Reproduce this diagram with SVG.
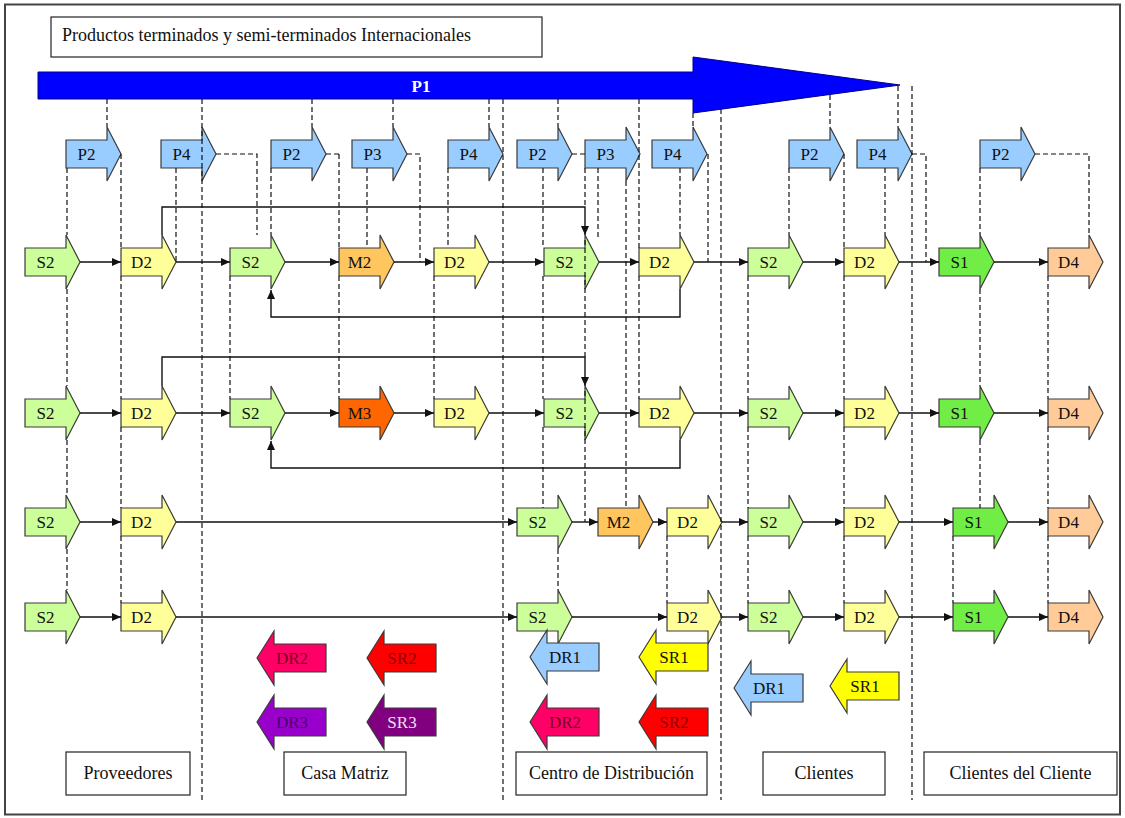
<svg xmlns="http://www.w3.org/2000/svg" xmlns:xlink="http://www.w3.org/1999/xlink" width="1125" height="818" viewBox="0 0 1125 818">
  <style>
    .lbl { font-family: "Liberation Serif", "Times New Roman", serif; font-size: 17px; fill: #111; text-anchor: middle; }
    .box { fill: #fff; stroke: #222; stroke-width: 1.2; }
    .boxtxt { font-family: "Liberation Serif", "Times New Roman", serif; font-size: 18px; fill: #111; text-anchor: middle; }
    .shape { stroke: #3a3a3a; stroke-width: 1.2; stroke-linejoin: miter; }
    .s2 { fill: #CCFF99; }
    .s1 { fill: #70EE45; }
    .d2 { fill: #FFFF99; }
    .d4 { fill: #FFCC99; }
    .m2 { fill: #FFC55E; }
    .m3 { fill: #FF6600; }
    .p  { fill: #99CCFF; }
    .dr1 { fill: #99CCFF; }
    .sr1 { fill: #FFFF00; }
    .dr2 { fill: #FF0066; }
    .sr2 { fill: #FF0000; }
    .dr3 { fill: #9900CC; }
    .sr3 { fill: #800080; }
    .flow { fill: none; stroke: #111; stroke-width: 1.4; }
    .dash { fill: none; stroke: #111; stroke-width: 1.2; stroke-dasharray: 5 3; }
  </style>
  <defs>
    <!-- block arrow pointing right, origin at body left / centre line -->
    <path id="fwd" d="M0,-14 H41 V-27 L55,0 L41,27 V14 H0 Z"/>
    <!-- block arrow pointing left, origin at tip -->
    <path id="rev" d="M0,0 L17,-27 V-14 H69 V14 H17 V27 Z"/>
    <marker id="ah" markerUnits="userSpaceOnUse" markerWidth="9" markerHeight="8" refX="9" refY="4" orient="auto">
      <path d="M0,0 L9,4 L0,8 Z" fill="#111"/>
    </marker>
  </defs>

  <rect x="5" y="4.5" width="1115" height="810" fill="#fff" stroke="#444" stroke-width="2"/>

  <!-- heading -->
  <g id="title">
    <rect class="box" x="51" y="17" width="491" height="40"/>
    <text x="62" y="41" font-family="Liberation Serif, serif" font-size="18" fill="#111">Productos terminados y semi-terminados Internacionales</text>
  </g>

  <!-- overall plan arrow -->
  <g id="P1">
    <path d="M38,72 H693 V57 L900,85 L693,113 V99 H38 Z" fill="#0000FF" stroke="#00008B" stroke-width="1"/>
    <text x="421" y="92" font-family="Liberation Serif, serif" font-size="17" font-weight="bold" fill="#fff" text-anchor="middle">P1</text>
  </g>

  <!-- planning row -->
  <g id="plan">
    <g id="p2-a"><use xlink:href="#fwd" class="shape p" x="66" y="154"/><text class="lbl" x="86.5" y="160">P2</text></g>
    <g id="p4-a"><use xlink:href="#fwd" class="shape p" x="161" y="154"/><text class="lbl" x="181.5" y="160">P4</text></g>
    <g id="p2-b"><use xlink:href="#fwd" class="shape p" x="271" y="154"/><text class="lbl" x="291.5" y="160">P2</text></g>
    <g id="p3-a"><use xlink:href="#fwd" class="shape p" x="352" y="154"/><text class="lbl" x="372.5" y="160">P3</text></g>
    <g id="p4-b"><use xlink:href="#fwd" class="shape p" x="448" y="154"/><text class="lbl" x="468.5" y="160">P4</text></g>
    <g id="p2-c"><use xlink:href="#fwd" class="shape p" x="517" y="154"/><text class="lbl" x="537.5" y="160">P2</text></g>
    <g id="p3-b"><use xlink:href="#fwd" class="shape p" x="585" y="154"/><text class="lbl" x="605.5" y="160">P3</text></g>
    <g id="p4-c"><use xlink:href="#fwd" class="shape p" x="652" y="154"/><text class="lbl" x="672.5" y="160">P4</text></g>
    <g id="p2-d"><use xlink:href="#fwd" class="shape p" x="789" y="154"/><text class="lbl" x="809.5" y="160">P2</text></g>
    <g id="p4-d"><use xlink:href="#fwd" class="shape p" x="857" y="154"/><text class="lbl" x="877.5" y="160">P4</text></g>
    <g id="p2-e"><use xlink:href="#fwd" class="shape p" x="980" y="154"/><text class="lbl" x="1000.5" y="160">P2</text></g>
  </g>

  <!-- row 1 -->
  <g id="row1">
    <g id="r1-s2a"><use xlink:href="#fwd" class="shape s2" x="25" y="262"/><text class="lbl" x="45.5" y="268">S2</text></g>
    <g id="r1-d2a"><use xlink:href="#fwd" class="shape d2" x="121" y="262"/><text class="lbl" x="141.5" y="268">D2</text></g>
    <g id="r1-s2b"><use xlink:href="#fwd" class="shape s2" x="230" y="262"/><text class="lbl" x="250.5" y="268">S2</text></g>
    <g id="r1-m2"><use xlink:href="#fwd" class="shape m2" x="339" y="262"/><text class="lbl" x="359.5" y="268">M2</text></g>
    <g id="r1-d2b"><use xlink:href="#fwd" class="shape d2" x="434" y="262"/><text class="lbl" x="454.5" y="268">D2</text></g>
    <g id="r1-s2c"><use xlink:href="#fwd" class="shape s2" x="544" y="262"/><text class="lbl" x="564.5" y="268">S2</text></g>
    <g id="r1-d2c"><use xlink:href="#fwd" class="shape d2" x="639" y="262"/><text class="lbl" x="659.5" y="268">D2</text></g>
    <g id="r1-s2d"><use xlink:href="#fwd" class="shape s2" x="748" y="262"/><text class="lbl" x="768.5" y="268">S2</text></g>
    <g id="r1-d2d"><use xlink:href="#fwd" class="shape d2" x="844" y="262"/><text class="lbl" x="864.5" y="268">D2</text></g>
    <g id="r1-s1"><use xlink:href="#fwd" class="shape s1" x="939" y="262"/><text class="lbl" x="959.5" y="268">S1</text></g>
    <g id="r1-d4"><use xlink:href="#fwd" class="shape d4" x="1048" y="262"/><text class="lbl" x="1068.5" y="268">D4</text></g>
  </g>

  <!-- row 2 -->
  <g id="row2">
    <g id="r2-s2a"><use xlink:href="#fwd" class="shape s2" x="25" y="413"/><text class="lbl" x="45.5" y="419">S2</text></g>
    <g id="r2-d2a"><use xlink:href="#fwd" class="shape d2" x="121" y="413"/><text class="lbl" x="141.5" y="419">D2</text></g>
    <g id="r2-s2b"><use xlink:href="#fwd" class="shape s2" x="230" y="413"/><text class="lbl" x="250.5" y="419">S2</text></g>
    <g id="r2-m3"><use xlink:href="#fwd" class="shape m3" x="339" y="413"/><text class="lbl" x="359.5" y="419">M3</text></g>
    <g id="r2-d2b"><use xlink:href="#fwd" class="shape d2" x="434" y="413"/><text class="lbl" x="454.5" y="419">D2</text></g>
    <g id="r2-s2c"><use xlink:href="#fwd" class="shape s2" x="544" y="413"/><text class="lbl" x="564.5" y="419">S2</text></g>
    <g id="r2-d2c"><use xlink:href="#fwd" class="shape d2" x="639" y="413"/><text class="lbl" x="659.5" y="419">D2</text></g>
    <g id="r2-s2d"><use xlink:href="#fwd" class="shape s2" x="748" y="413"/><text class="lbl" x="768.5" y="419">S2</text></g>
    <g id="r2-d2d"><use xlink:href="#fwd" class="shape d2" x="844" y="413"/><text class="lbl" x="864.5" y="419">D2</text></g>
    <g id="r2-s1"><use xlink:href="#fwd" class="shape s1" x="939" y="413"/><text class="lbl" x="959.5" y="419">S1</text></g>
    <g id="r2-d4"><use xlink:href="#fwd" class="shape d4" x="1048" y="413"/><text class="lbl" x="1068.5" y="419">D4</text></g>
  </g>

  <!-- row 3 -->
  <g id="row3">
    <g id="r3-s2a"><use xlink:href="#fwd" class="shape s2" x="25" y="522"/><text class="lbl" x="45.5" y="528">S2</text></g>
    <g id="r3-d2a"><use xlink:href="#fwd" class="shape d2" x="121" y="522"/><text class="lbl" x="141.5" y="528">D2</text></g>
    <g id="r3-s2c"><use xlink:href="#fwd" class="shape s2" x="517" y="522"/><text class="lbl" x="537.5" y="528">S2</text></g>
    <g id="r3-m2"><use xlink:href="#fwd" class="shape m2" x="598" y="522"/><text class="lbl" x="618.5" y="528">M2</text></g>
    <g id="r3-d2c"><use xlink:href="#fwd" class="shape d2" x="667" y="522"/><text class="lbl" x="687.5" y="528">D2</text></g>
    <g id="r3-s2d"><use xlink:href="#fwd" class="shape s2" x="748" y="522"/><text class="lbl" x="768.5" y="528">S2</text></g>
    <g id="r3-d2d"><use xlink:href="#fwd" class="shape d2" x="844" y="522"/><text class="lbl" x="864.5" y="528">D2</text></g>
    <g id="r3-s1"><use xlink:href="#fwd" class="shape s1" x="953" y="522"/><text class="lbl" x="973.5" y="528">S1</text></g>
    <g id="r3-d4"><use xlink:href="#fwd" class="shape d4" x="1048" y="522"/><text class="lbl" x="1068.5" y="528">D4</text></g>
  </g>

  <!-- row 4 -->
  <g id="row4">
    <g id="r4-s2a"><use xlink:href="#fwd" class="shape s2" x="25" y="617"/><text class="lbl" x="45.5" y="623">S2</text></g>
    <g id="r4-d2a"><use xlink:href="#fwd" class="shape d2" x="121" y="617"/><text class="lbl" x="141.5" y="623">D2</text></g>
    <g id="r4-s2c"><use xlink:href="#fwd" class="shape s2" x="517" y="617"/><text class="lbl" x="537.5" y="623">S2</text></g>
    <g id="r4-d2c"><use xlink:href="#fwd" class="shape d2" x="667" y="617"/><text class="lbl" x="687.5" y="623">D2</text></g>
    <g id="r4-s2d"><use xlink:href="#fwd" class="shape s2" x="748" y="617"/><text class="lbl" x="768.5" y="623">S2</text></g>
    <g id="r4-d2d"><use xlink:href="#fwd" class="shape d2" x="844" y="617"/><text class="lbl" x="864.5" y="623">D2</text></g>
    <g id="r4-s1"><use xlink:href="#fwd" class="shape s1" x="953" y="617"/><text class="lbl" x="973.5" y="623">S1</text></g>
    <g id="r4-d4"><use xlink:href="#fwd" class="shape d4" x="1048" y="617"/><text class="lbl" x="1068.5" y="623">D4</text></g>
  </g>

  <!-- return processes -->
  <g id="returns">
    <g id="cm-dr2"><use xlink:href="#rev" class="shape dr2" x="257" y="658"/><text class="lbl" x="292" y="664" style="fill:#7a0025">DR2</text></g>
    <g id="cm-sr2"><use xlink:href="#rev" class="shape sr2" x="367" y="658"/><text class="lbl" x="402" y="664" style="fill:#8a0000">SR2</text></g>
    <g id="cm-dr3"><use xlink:href="#rev" class="shape dr3" x="257" y="722"/><text class="lbl" x="292" y="728" style="fill:#4a0070">DR3</text></g>
    <g id="cm-sr3"><use xlink:href="#rev" class="shape sr3" x="367" y="722"/><text class="lbl" x="402" y="728" style="fill:#f0e0f4">SR3</text></g>
    <g id="cd-dr1"><use xlink:href="#rev" class="shape dr1" x="530" y="657"/><text class="lbl" x="565" y="663">DR1</text></g>
    <g id="cd-sr1"><use xlink:href="#rev" class="shape sr1" x="639" y="657"/><text class="lbl" x="674" y="663">SR1</text></g>
    <g id="cd-dr2"><use xlink:href="#rev" class="shape dr2" x="530" y="722"/><text class="lbl" x="565" y="728" style="fill:#7a0025">DR2</text></g>
    <g id="cd-sr2"><use xlink:href="#rev" class="shape sr2" x="639" y="722"/><text class="lbl" x="674" y="728" style="fill:#8a0000">SR2</text></g>
    <g id="cl-dr1"><use xlink:href="#rev" class="shape dr1" x="734" y="688"/><text class="lbl" x="769" y="694">DR1</text></g>
    <g id="cl-sr1"><use xlink:href="#rev" class="shape sr1" x="830" y="686"/><text class="lbl" x="865" y="692">SR1</text></g>
  </g>

  <!-- area captions -->
  <g id="areas">
    <g id="area-proveedores"><rect class="box" x="66" y="752" width="124" height="43"/><text class="boxtxt" x="128" y="779">Proveedores</text></g>
    <g id="area-casa"><rect class="box" x="284" y="752" width="122" height="43"/><text class="boxtxt" x="345" y="779">Casa Matriz</text></g>
    <g id="area-centro"><rect class="box" x="516" y="752" width="191" height="43"/><text class="boxtxt" x="611.5" y="779">Centro de Distribución</text></g>
    <g id="area-clientes"><rect class="box" x="763" y="752" width="122" height="43"/><text class="boxtxt" x="824" y="779">Clientes</text></g>
    <g id="area-cc"><rect class="box" x="924" y="752" width="193" height="43"/><text class="boxtxt" x="1020.5" y="779">Clientes del Cliente</text></g>
  </g>

  <g id="connectors">
    <!-- material flow, left to right -->
    <g class="flow" marker-end="url(#ah)">
      <path d="M80,262 H121"/><path d="M176,262 H230"/><path d="M285,262 H339"/><path d="M394,262 H434"/><path d="M489,262 H544"/>
      <path d="M599,262 H639"/><path d="M694,262 H748"/><path d="M803,262 H844"/><path d="M899,262 H939"/><path d="M994,262 H1048"/>
      <path d="M80,413 H121"/><path d="M176,413 H230"/><path d="M285,413 H339"/><path d="M394,413 H434"/><path d="M489,413 H544"/>
      <path d="M599,413 H639"/><path d="M694,413 H748"/><path d="M803,413 H844"/><path d="M899,413 H939"/><path d="M994,413 H1048"/>
      <path d="M80,522 H121"/><path d="M176,522 H517"/><path d="M572,522 H598"/><path d="M653,522 H667"/><path d="M722,522 H748"/>
      <path d="M803,522 H844"/><path d="M899,522 H953"/><path d="M1008,522 H1048"/>
      <path d="M80,617 H121"/><path d="M176,617 H517"/><path d="M572,617 H667"/><path d="M722,617 H748"/>
      <path d="M803,617 H844"/><path d="M899,617 H953"/><path d="M1008,617 H1048"/>
      <!-- bypass and return loops -->
      <path d="M162,235 V207 H585 V235"/>
      <path d="M680,289 V317 H271 V290"/>
      <path d="M162,386 V357 H585 V386"/>
      <path d="M680,440 V468 H271 V441"/>
    </g>
    <!-- planning links -->
    <path class="dash" d="
      M216,154 H257 V235 M326,154 H339 M407,154 H420 V262 M572,154 H585 M912,154 H926 V262 M1035,154 H1089 V235
      M67,168 V235 M67,289 V386 M67,440 V495 M67,549 V590
      M107,99 V127
      M121,154 V248 M121,276 V399 M121,427 V508 M121,536 V603
      M176,168 V262
      M202,99 V800
      M230,276 V399
      M271,168 V235
      M312,99 V127
      M339,154 V248 M339,276 V399
      M367,168 V248
      M393,99 V127
      M448,168 V248
      M434,276 V399
      M489,99 V127
      M503,99 V800
      M543,168 V248 M543,276 V399 M543,427 V508
      M558,99 V127 M558,549 V590
      M585,168 V207 M585,240 V357 M585,391 V522
      M598,168 V240
      M626,181 V508
      M639,99 V248 M639,276 V399
      M680,168 V235
      M667,536 V603
      M693,113 V127
      M708,154 V262
      M721,109 V800
      M748,276 V399 M748,427 V508 M748,536 V603
      M789,168 V235
      M830,95 V127
      M844,154 V248 M844,276 V399 M844,427 V508 M844,536 V603
      M885,168 V235
      M898,86 V127
      M912,86 V800
      M980,168 V235 M980,289 V386 M980,440 V508
      M953,536 V603
      M1048,276 V399 M1048,427 V508 M1048,536 V603"/>
  </g>
</svg>
